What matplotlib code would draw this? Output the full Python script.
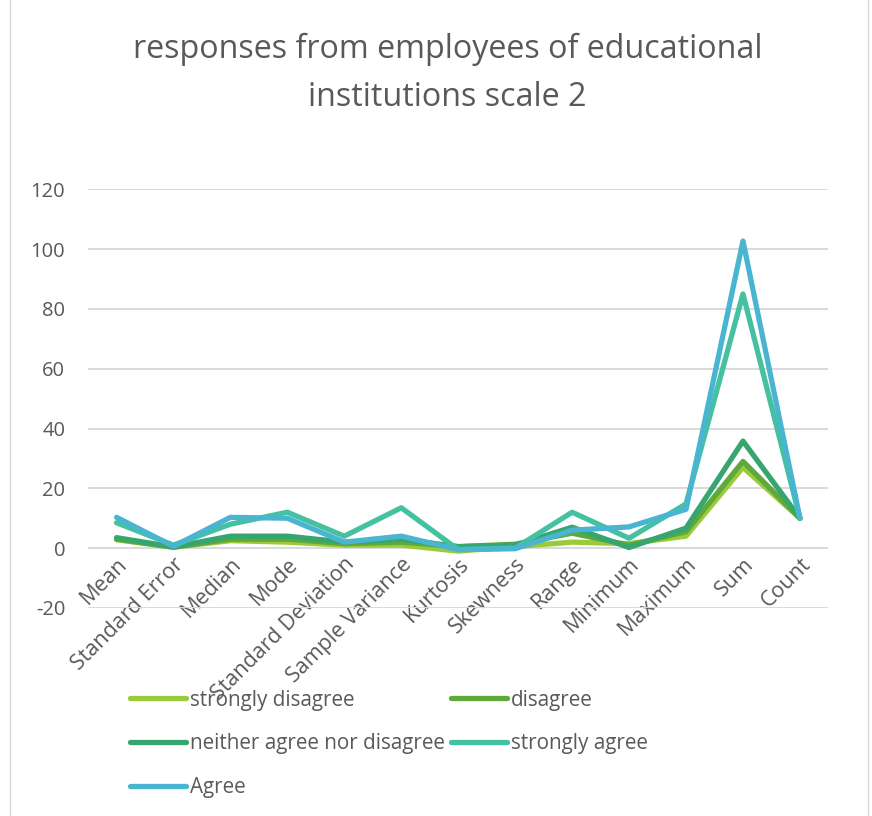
import numpy as np
import matplotlib.pyplot as plt
from matplotlib.lines import Line2D

categories = ['Mean', 'Standard Error', 'Median', 'Mode', 'Standard Deviation',
              'Sample Variance', 'Kurtosis', 'Skewness', 'Range', 'Minimum',
              'Maximum', 'Sum', 'Count']

strongly_disagree = [2.8, 0.3, 2.5, 2.0, 1.0, 1.0, -1.0, 0.5, 2.0, 1.5, 4.0, 27.0, 10]
disagree = [3.0, 0.3, 3.0, 3.0, 1.5, 2.0, 0.5, 1.3, 5.0, 1.0, 5.5, 29.0, 10]
neither = [3.5, 0.4, 4.0, 4.0, 2.0, 3.0, 0.5, 1.0, 7.0, 0.2, 6.7, 35.8, 10]
strongly_agree = [8.5, 1.0, 8.0, 12.0, 4.0, 13.5, -0.5, 0.0, 12.0, 3.3, 14.8, 85.0, 10]
agree = [10.3, 0.6, 10.3, 10.0, 2.0, 4.0, -0.5, -0.2, 6.0, 7.1, 13.0, 102.7, 10]

series = [
    ('strongly disagree', strongly_disagree, '#9BCB3B'),
    ('disagree', disagree, '#5FA83A'),
    ('neither agree nor disagree', neither, '#37A56E'),
    ('strongly agree', strongly_agree, '#45C1A2'),
    ('Agree', agree, '#4AB5D1'),
]

plt.rcParams['font.family'] = ['Open Sans', 'DejaVu Sans']
plt.rcParams['axes.unicode_minus'] = False
text_color = '#595959'

fig = plt.figure(figsize=(8.72, 8.16), dpi=100)
ax = fig.add_axes([0.101, 0.255, 0.849, 0.513])

x = np.arange(len(categories))
lines = {}
for name, vals, col in series:
    ln, = ax.plot(x, vals, color=col, lw=3.8, label=name,
                  solid_joinstyle='round', solid_capstyle='round')
    lines[name] = ln

ax.set_xlim(-0.5, len(categories) - 0.5)
ax.set_ylim(-20, 120)
ax.set_yticks(range(-20, 121, 20))
ax.yaxis.grid(True, color='#D9D9D9', lw=1.4)
ax.set_axisbelow(True)
for s in ax.spines.values():
    s.set_visible(False)
ax.spines['bottom'].set_position(('data', 0))
ax.tick_params(length=0, colors=text_color, labelsize=14.5)
ax.tick_params(axis='y', pad=16.5)
ax.tick_params(axis='x', pad=4, labelsize=15.5)
ax.set_xticks(x)
ax.set_xticklabels(categories, rotation=45, ha='right', va='top',
                   rotation_mode='anchor')

fig.text(0.513, 0.91, 'responses from employees of educational\ninstitutions scale 2',
         ha='center', va='center', fontsize=23.2, color=text_color,
         linespacing=1.6)

order = ['strongly disagree', 'neither agree nor disagree', 'Agree',
         'disagree', 'strongly agree']
leg = fig.legend([lines[n] for n in order], order, ncol=2,
                 loc='upper left', bbox_to_anchor=(0.149, 0.155),
                 frameon=False, fontsize=14.9, handlelength=2.7,
                 handletextpad=0.2, columnspacing=0.29, labelspacing=1.1,
                 labelcolor=text_color, borderaxespad=0, borderpad=0)

# chart border (left and right edges visible in the crop)
for xb in (10 / 872, 868 / 872):
    fig.add_artist(Line2D([xb, xb], [0, 1], transform=fig.transFigure,
                          color='#D9D9D9', lw=1))

fig.savefig('out.png', dpi=100)
